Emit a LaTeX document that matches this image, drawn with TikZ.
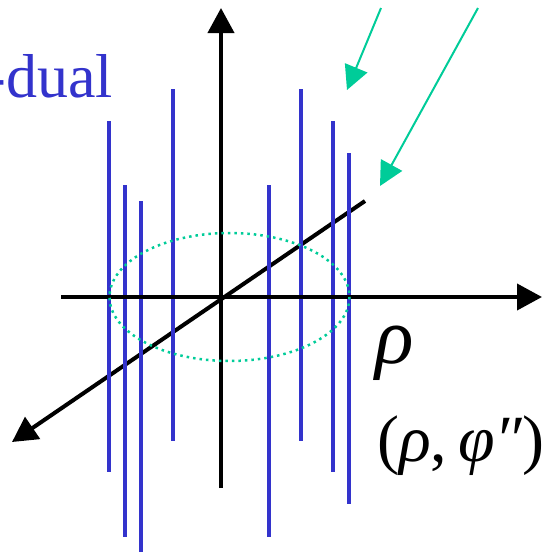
\documentclass[tikz,border=0pt]{standalone}
\usepackage{fontspec}
\setmainfont{Liberation Serif}
\usepackage{xcolor}
\usetikzlibrary{arrows.meta}
\definecolor{fringeblue}{RGB}{51,51,204}
\definecolor{rayteal}{RGB}{0,204,153}
\tikzset{
  axisline/.style={line width=4pt,black},
  axisarrow/.style={axisline,-{Triangle[length=25pt,width=26pt]}},
  fringe/.style={line width=4pt,fringeblue},
  rayarrow/.style={line width=2pt,rayteal,-{Triangle[length=24pt,width=24pt]}},
  ringdot/.style={line width=2.5pt,rayteal,dash pattern=on 2.5pt off 4pt},
  biglabel/.style={inner sep=0pt,font=\fontsize{80}{80}\selectfont\itshape},
  pairlabel/.style={inner sep=0pt,font=\fontsize{66}{66}\selectfont},
}
\begin{document}
\begin{tikzpicture}[x=1pt,y=-1pt]
  \clip (0,0) rectangle (558,552);
  \useasboundingbox (0,0) rectangle (558,552);
  \coordinate (o) at (221,297);
  \coordinate (hL) at (61,297);
  \coordinate (hR) at (542,297);
  \coordinate (vB) at (221,488);
  \coordinate (vT) at (221,8);
  \coordinate (dR) at (365,201);
  \coordinate (dL) at (12,442);
  % diagonal axis
  \draw[axisline,-{Triangle[length=25pt,width=26pt]}] (dR) -- (dL);
  % blue fringes
  \foreach \fx/\ftop/\fbot in {109/121/472, 125/185/537, 141/201/552, 173/89/441,
                              269/185/537, 301/89/441, 333/121/472, 349/153/504}
    \draw[fringe] (\fx,\ftop) -- (\fx,\fbot);
  % horizontal and vertical axes
  \draw[axisarrow] (hL) -- (hR);
  \draw[axisarrow] (vB) -- (vT);
  % dotted ring
  \draw[ringdot] (229.5,297) ellipse [x radius=120, y radius=64];
  % incoming rays
  \coordinate (r1s) at (381,8);
  \coordinate (r1e) at (347,90);
  \coordinate (r2s) at (478,8);
  \coordinate (r2e) at (380,186);
  \draw[rayarrow] (r1s) -- (r1e);
  \draw[rayarrow] (r2s) -- (r2e);
  % labels
  \node[inner sep=0pt,anchor=base east,text=fringeblue,font=\fontsize{62}{62}\selectfont] (ldual) at (113,97) {-dual};
  \node[biglabel,anchor=base west] (lrho) at (375,363) {ρ};
  \node[pairlabel,anchor=base west] (lpair) at (377,461) {(\textit{ρ},\,\textit{φ″})};
\end{tikzpicture}
\end{document}
